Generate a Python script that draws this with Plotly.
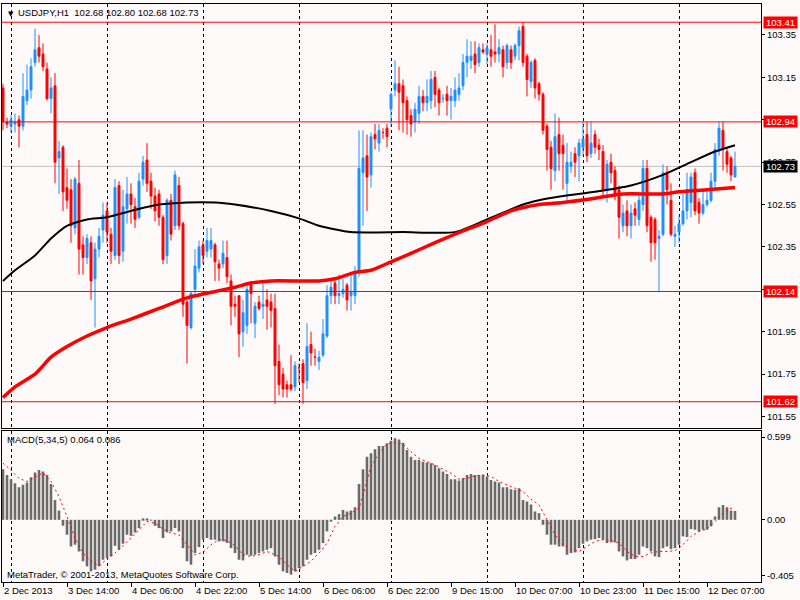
import plotly.graph_objects as go

# USDJPY H1, 184 hourly bars (index 0 = first bar on the chart)
bars = list(range(184))

opens = [
    103.10, 102.94, 102.92, 102.93, 102.95, 102.92, 103.04, 103.09, 103.22, 103.29,
    103.26, 103.19, 103.05, 103.11, 102.77, 102.82, 102.63, 102.62, 102.44, 102.65,
    102.36, 102.30, 102.37, 102.20, 102.34, 102.43, 102.52, 102.41, 102.31, 102.64,
    102.33, 102.53, 102.60, 102.54, 102.49, 102.67, 102.76, 102.66, 102.59, 102.60,
    102.49, 102.31, 102.57, 102.45, 102.64, 102.46, 102.09, 101.97, 102.15, 102.25,
    102.36, 102.33, 102.34, 102.36, 102.27, 102.27, 102.30, 102.19, 102.08, 102.12,
    101.95, 101.98, 102.18, 101.99, 102.09, 102.07, 102.10, 102.09, 102.06, 101.81,
    101.75, 101.70, 101.70, 101.69, 101.78, 101.80, 101.72, 101.89, 101.83, 101.81,
    101.84, 101.93, 102.12, 102.18, 102.12, 102.13, 102.17, 102.12, 102.12, 102.24,
    102.70, 102.78, 102.69, 102.88, 102.84, 102.89, 102.91, 103.00, 103.09, 103.12,
    103.11, 103.04, 102.97, 102.94, 102.98, 103.06, 103.03, 103.04, 103.15, 103.09,
    103.05, 103.07, 103.04, 103.04, 103.07, 103.11, 103.22, 103.23, 103.26, 103.22,
    103.28, 103.26, 103.28, 103.27, 103.26, 103.28, 103.22, 103.28, 103.25, 103.30,
    103.39, 103.25, 103.13, 103.23, 103.12, 103.07, 102.92, 102.82, 102.71, 102.88,
    102.83, 102.65, 102.73, 102.79, 102.78, 102.82, 102.88, 102.79, 102.88, 102.83,
    102.80, 102.62, 102.75, 102.71, 102.62, 102.45, 102.52, 102.45, 102.53, 102.48,
    102.55, 102.72, 102.49, 102.48, 102.39, 102.41, 102.70, 102.57, 102.40, 102.42,
    102.46, 102.52, 102.56, 102.70, 102.56, 102.51, 102.55, 102.57, 102.66, 102.80,
    102.90, 102.80, 102.77, 102.68,
]
highs = [
    103.12, 102.96, 102.97, 102.98, 102.97, 103.17, 103.21, 103.24, 103.38, 103.35,
    103.31, 103.22, 103.15, 103.17, 102.85, 102.83, 102.72, 102.67, 102.68, 102.76,
    102.40, 102.41, 102.40, 102.37, 102.44, 102.56, 102.56, 102.44, 102.67, 102.66,
    102.62, 102.68, 102.65, 102.58, 102.70, 102.78, 102.84, 102.70, 102.63, 102.62,
    102.50, 102.58, 102.60, 102.71, 102.68, 102.47, 102.10, 102.14, 102.34, 102.38,
    102.38, 102.44, 102.44, 102.37, 102.29, 102.38, 102.38, 102.22, 102.12, 102.12,
    102.10, 102.18, 102.19, 102.09, 102.12, 102.18, 102.15, 102.13, 102.13, 101.89,
    101.78, 101.72, 101.84, 101.81, 101.80, 101.82, 101.99, 101.95, 101.87, 101.86,
    102.01, 102.17, 102.19, 102.19, 102.22, 102.20, 102.18, 102.22, 102.26, 102.90,
    102.90, 102.88, 102.89, 102.93, 102.93, 102.91, 102.93, 103.08, 103.23, 103.20,
    103.14, 103.06, 103.00, 103.03, 103.11, 103.09, 103.14, 103.18, 103.18, 103.10,
    103.07, 103.11, 103.10, 103.15, 103.17, 103.26, 103.33, 103.32, 103.32, 103.31,
    103.31, 103.31, 103.35, 103.40, 103.33, 103.30, 103.31, 103.30, 103.31, 103.39,
    103.41, 103.26, 103.23, 103.24, 103.13, 103.08, 102.93, 102.85, 102.98, 102.96,
    102.88, 102.84, 102.80, 102.82, 102.86, 102.94, 102.94, 102.94, 102.90, 102.86,
    102.83, 102.76, 102.79, 102.73, 102.64, 102.55, 102.57, 102.55, 102.56, 102.60,
    102.76, 102.76, 102.50, 102.49, 102.43, 102.74, 102.73, 102.65, 102.45, 102.50,
    102.60, 102.70, 102.70, 102.72, 102.58, 102.62, 102.62, 102.70, 102.84, 102.94,
    102.94, 102.82, 102.78, 102.80,
]
lows = [
    102.90, 102.91, 102.89, 102.89, 102.82, 102.90, 103.02, 103.05, 103.20, 103.22,
    103.18, 103.04, 102.98, 102.65, 102.60, 102.52, 102.53, 102.37, 102.41, 102.22,
    102.22, 102.27, 102.10, 101.97, 102.30, 102.37, 102.37, 102.27, 102.29, 102.27,
    102.28, 102.46, 102.46, 102.44, 102.48, 102.64, 102.61, 102.53, 102.47, 102.45,
    102.27, 102.27, 102.38, 102.43, 102.43, 102.02, 101.80, 101.96, 102.13, 102.23,
    102.27, 102.30, 102.30, 102.19, 102.19, 102.25, 102.18, 101.98, 102.02, 101.83,
    101.88, 101.94, 101.99, 101.92, 102.05, 102.01, 101.96, 101.97, 101.61, 101.65,
    101.64, 101.64, 101.67, 101.67, 101.71, 101.61, 101.68, 101.79, 101.79, 101.77,
    101.83, 101.92, 102.08, 102.08, 102.08, 102.11, 102.05, 102.05, 102.08, 102.21,
    102.45, 102.52, 102.63, 102.81, 102.80, 102.86, 102.82, 102.92, 103.06, 102.90,
    102.89, 102.88, 102.87, 102.89, 102.93, 102.99, 102.99, 103.00, 103.01, 102.97,
    103.03, 102.97, 102.95, 103.01, 103.04, 103.09, 103.15, 103.19, 103.17, 103.20,
    103.26, 103.21, 103.20, 103.22, 103.22, 103.15, 103.19, 103.19, 103.23, 103.23,
    103.20, 103.06, 103.10, 103.05, 103.04, 102.88, 102.71, 102.62, 102.66, 102.71,
    102.62, 102.57, 102.70, 102.68, 102.66, 102.78, 102.75, 102.77, 102.79, 102.76,
    102.58, 102.56, 102.65, 102.57, 102.39, 102.42, 102.40, 102.39, 102.45, 102.45,
    102.52, 102.42, 102.28, 102.29, 102.14, 102.40, 102.55, 102.40, 102.35, 102.37,
    102.45, 102.48, 102.49, 102.50, 102.46, 102.50, 102.54, 102.56, 102.62, 102.78,
    102.71, 102.70, 102.66, 102.68,
]
closes = [
    102.94, 102.93, 102.95, 102.94, 102.92, 103.06, 103.09, 103.20, 103.28, 103.25,
    103.20, 103.05, 103.10, 102.75, 102.80, 102.61, 102.57, 102.45, 102.67, 102.34,
    102.30, 102.39, 102.19, 102.34, 102.40, 102.50, 102.42, 102.33, 102.63, 102.31,
    102.54, 102.60, 102.55, 102.48, 102.66, 102.75, 102.65, 102.59, 102.52, 102.49,
    102.29, 102.57, 102.41, 102.69, 102.45, 102.08, 101.98, 102.13, 102.26, 102.35,
    102.31, 102.38, 102.38, 102.28, 102.25, 102.32, 102.21, 102.07, 102.07, 101.94,
    102.04, 102.15, 102.13, 102.07, 102.06, 102.08, 102.07, 102.05, 101.79, 101.70,
    101.68, 101.68, 101.68, 101.79, 101.78, 101.71, 101.88, 101.85, 101.83, 101.83,
    101.94, 102.12, 102.16, 102.12, 102.13, 102.15, 102.10, 102.14, 102.23, 102.72,
    102.77, 102.68, 102.87, 102.86, 102.90, 102.89, 102.87, 103.07, 103.12, 103.08,
    103.03, 102.95, 102.93, 103.00, 103.06, 103.03, 103.06, 103.14, 103.07, 103.03,
    103.05, 103.04, 103.06, 103.09, 103.10, 103.22, 103.25, 103.25, 103.21, 103.29,
    103.27, 103.29, 103.25, 103.26, 103.29, 103.20, 103.30, 103.22, 103.30, 103.37,
    103.22, 103.14, 103.22, 103.10, 103.07, 102.90, 102.81, 102.72, 102.87, 102.79,
    102.79, 102.75, 102.75, 102.75, 102.84, 102.86, 102.78, 102.84, 102.82, 102.81,
    102.62, 102.74, 102.70, 102.60, 102.49, 102.51, 102.45, 102.51, 102.50, 102.57,
    102.72, 102.45, 102.37, 102.37, 102.40, 102.70, 102.62, 102.41, 102.41, 102.46,
    102.52, 102.62, 102.68, 102.52, 102.51, 102.55, 102.57, 102.66, 102.81, 102.91,
    102.81, 102.74, 102.69, 102.73,
]

# moving averages, read at a few bars
ma_black_x = [0, 3, 8, 12, 16, 21, 26, 32, 39, 46, 53, 58, 67, 74, 79, 87, 100, 113,
              121, 130, 134, 140, 148, 157, 165, 172, 178, 183]
ma_black = [102.19, 102.24, 102.31, 102.39, 102.45, 102.48, 102.49, 102.52, 102.55,
            102.56, 102.56, 102.55, 102.52, 102.485, 102.45, 102.42, 102.42, 102.42,
            102.48, 102.55, 102.57, 102.59, 102.61, 102.64, 102.69, 102.75, 102.80, 102.83]
ma_red_x = [0, 3, 8, 12, 16, 21, 26, 32, 39, 46, 53, 58, 62, 67, 79, 83, 88, 92, 97,
            102, 108, 113, 121, 127, 134, 140, 148, 155, 165, 169, 176, 183]
ma_red = [101.64, 101.69, 101.75, 101.83, 101.88, 101.93, 101.97, 102.01, 102.06,
          102.11, 102.14, 102.16, 102.18, 102.19, 102.19, 102.20, 102.23, 102.24, 102.28,
          102.32, 102.37, 102.41, 102.47, 102.52, 102.55, 102.56, 102.58, 102.60, 102.60,
          102.61, 102.62, 102.63]

# MACD(5,34,5)
macd_hist = [
    0.366, 0.325, 0.294, 0.265, 0.236, 0.253, 0.270, 0.308, 0.342, 0.361,
    0.349, 0.325, 0.260, 0.144, 0.067, -0.043, -0.108, -0.193, -0.180, -0.229,
    -0.300, -0.337, -0.373, -0.361, -0.337, -0.289, -0.277, -0.265, -0.188, -0.217,
    -0.173, -0.108, -0.116, -0.091, -0.060, 0.010, 0.010, -0.005, -0.043, -0.060,
    -0.132, -0.091, -0.084, -0.060, -0.084, -0.205, -0.300, -0.325, -0.240, -0.197,
    -0.144, -0.132, -0.144, -0.144, -0.156, -0.156, -0.168, -0.205, -0.240, -0.289,
    -0.294, -0.253, -0.260, -0.253, -0.240, -0.229, -0.217, -0.205, -0.265, -0.325,
    -0.373, -0.385, -0.397, -0.373, -0.349, -0.337, -0.289, -0.253, -0.240, -0.217,
    -0.168, -0.084, -0.007, 0.024, 0.041, 0.072, 0.060, 0.067, 0.091, 0.260,
    0.366, 0.457, 0.481, 0.510, 0.534, 0.534, 0.554, 0.573, 0.590, 0.582,
    0.558, 0.505, 0.457, 0.433, 0.433, 0.421, 0.414, 0.409, 0.397, 0.373,
    0.349, 0.332, 0.294, 0.294, 0.284, 0.300, 0.325, 0.332, 0.325, 0.325,
    0.325, 0.313, 0.289, 0.277, 0.270, 0.236, 0.236, 0.221, 0.217, 0.229,
    0.144, 0.132, 0.110, 0.060, 0.048, -0.036, -0.108, -0.180, -0.180, -0.193,
    -0.193, -0.253, -0.240, -0.236, -0.205, -0.173, -0.156, -0.144, -0.140, -0.132,
    -0.144, -0.168, -0.164, -0.164, -0.229, -0.265, -0.294, -0.284, -0.284, -0.253,
    -0.193, -0.205, -0.229, -0.265, -0.270, -0.205, -0.193, -0.212, -0.205, -0.180,
    -0.120, -0.125, -0.067, -0.072, -0.084, -0.072, -0.072, -0.048, 0.024, 0.091,
    0.108, 0.091, 0.067, 0.064,
]
signal_x = [0, 2, 4, 6, 8, 10, 12, 14, 16, 18, 20, 22, 24, 26, 28, 30, 32, 34, 36, 38,
            40, 42, 44, 46, 48, 50, 52, 54, 56, 58, 60, 62, 64, 66, 69, 71, 73, 75, 77,
            79, 81, 83, 85, 87, 89, 90, 92, 94, 96, 98, 100, 102, 104, 106, 108, 110,
            112, 114, 116, 118, 120, 122, 124, 126, 128, 130, 132, 134, 136, 138, 140,
            142, 144, 146, 148, 150, 152, 154, 156, 158, 160, 162, 164, 166, 168, 170,
            172, 174, 176, 178, 180, 182, 183]
signal = [0.41, 0.36, 0.30, 0.277, 0.31, 0.34, 0.277, 0.168, 0.024, -0.132, -0.24,
          -0.30, -0.332, -0.289, -0.24, -0.188, -0.132, -0.072, -0.012, -0.024, -0.067,
          -0.096, -0.108, -0.18, -0.253, -0.236, -0.18, -0.144, -0.149, -0.188, -0.253,
          -0.265, -0.253, -0.229, -0.265, -0.325, -0.373, -0.337, -0.30, -0.24, -0.168,
          -0.048, 0.024, 0.048, 0.084, 0.18, 0.385, 0.481, 0.549, 0.558, 0.549, 0.493,
          0.445, 0.421, 0.397, 0.366, 0.337, 0.294, 0.30, 0.318, 0.325, 0.313, 0.277,
          0.253, 0.229, 0.205, 0.149, 0.108, 0.0, -0.108, -0.18, -0.212, -0.229, -0.193,
          -0.156, -0.144, -0.149, -0.168, -0.229, -0.265, -0.265, -0.24, -0.229, -0.229,
          -0.224, -0.18, -0.12, -0.084, -0.067, -0.012, 0.048, 0.084, 0.086]

tick_bars = [0, 16, 32, 48, 64, 80, 96, 112, 128, 144, 160, 176]
tick_labels = ["2 Dec 2013", "3 Dec 14:00", "4 Dec 06:00", "4 Dec 22:00", "5 Dec 14:00",
               "6 Dec 06:00", "6 Dec 22:00", "9 Dec 15:00", "10 Dec 07:00",
               "10 Dec 23:00", "11 Dec 15:00", "12 Dec 07:00"]
day_breaks = [2, 26, 50, 74, 97, 121, 145, 169]
price_ticks = [101.55, 101.75, 101.95, 102.15, 102.35, 102.55, 102.75, 102.95, 103.15, 103.35]
levels = [103.41, 102.94, 102.14, 101.62]
macd_ticks = [0.599, 0.0, -0.405]
macd_ticktext = ["0.599", "0.00", "-0.405"]

BG = "#FFFAFA"
FONT = "Liberation Sans"
FS = 9.5

fig = go.Figure()

fig.add_trace(go.Candlestick(
    x=bars, open=opens, high=highs, low=lows, close=closes,
    increasing=dict(line=dict(color="#1E90FF", width=1), fillcolor="#1E90FF"),
    decreasing=dict(line=dict(color="#FF0000", width=1), fillcolor="#FF0000"),
    whiskerwidth=0, hoverinfo="skip", showlegend=False,
))
fig.add_trace(go.Scatter(x=ma_black_x, y=ma_black, mode="lines",
                         line=dict(color="black", width=2, shape="spline", smoothing=0.6),
                         hoverinfo="skip"))
fig.add_trace(go.Scatter(x=ma_red_x, y=ma_red, mode="lines",
                         line=dict(color="#FF0000", width=3.5, shape="spline", smoothing=0.6),
                         hoverinfo="skip"))

fig.add_trace(go.Bar(x=bars, y=macd_hist, width=0.65, xaxis="x2", yaxis="y2",
                     marker=dict(color="#6A6A6A", line=dict(width=0)), hoverinfo="skip"))
fig.add_trace(go.Scatter(x=signal_x, y=signal, mode="lines", xaxis="x2", yaxis="y2",
                         line=dict(color="#FF0000", width=1, dash="2px,3px"), hoverinfo="skip"))

# horizontal levels (objects sit on top of the chart, as in the terminal)
fig.add_shape(type="line", xref="paper", x0=0, x1=1, yref="y", y0=closes[-1], y1=closes[-1],
              line=dict(color="#C0C0C0", width=1), layer="below")
for lv in levels:
    fig.add_shape(type="line", xref="paper", x0=0, x1=1, yref="y", y0=lv, y1=lv,
                  line=dict(color="#FF0000", width=1), layer="above")

# price labels on the right scale
for lv in levels:
    fig.add_annotation(xref="paper", x=1, xanchor="left", xshift=2, yref="y", y=lv,
                       text=f"{lv:.2f}", showarrow=False, bgcolor="#FF0000",
                       font=dict(family=FONT, size=FS, color="white"),
                       width=33, height=11, borderpad=0)
fig.add_annotation(xref="paper", x=1, xanchor="left", xshift=2, yref="y", y=closes[-1],
                   text=f"{closes[-1]:.2f}", showarrow=False, bgcolor="black",
                   font=dict(family=FONT, size=FS, color="white"),
                   width=33, height=11, borderpad=0)

# header texts
fig.add_annotation(xref="paper", yref="paper", x=0, y=1, xanchor="left", yanchor="top",
                   xshift=4, yshift=-4, text="▼", showarrow=False,
                   font=dict(family="DejaVu Sans", size=7, color="black"))
fig.add_annotation(xref="paper", yref="paper", x=0, y=1, xanchor="left", yanchor="top",
                   xshift=14, yshift=-1, showarrow=False,
                   text=f"USDJPY,H1\u00a0\u00a0{opens[-1]:.2f} {highs[-1]:.2f} {lows[-1]:.2f} {closes[-1]:.2f}",
                   font=dict(family=FONT, size=FS, color="black"))
fig.add_annotation(xref="paper", yref="y2 domain", x=0, y=1, xanchor="left", yanchor="top",
                   xshift=3, yshift=-1, showarrow=False,
                   text=f"MACD(5,34,5) {macd_hist[-1]:.3f} {signal[-1]:.3f}",
                   font=dict(family=FONT, size=FS, color="black"))
fig.add_annotation(xref="paper", yref="y2 domain", x=0, y=0, xanchor="left", yanchor="bottom",
                   xshift=3, yshift=0, showarrow=False,
                   text="MetaTrader, © 2001-2013, MetaQuotes Software Corp.",
                   font=dict(family=FONT, size=FS, color="black"))

minor_grid = dict(tickmode="array", tickvals=day_breaks, showgrid=True, gridcolor="black",
                  gridwidth=1, griddash="3px,3px", ticks="")
x_range = [-0.25, 189.5]

fig.update_layout(
    width=800, height=600,
    margin=dict(l=2, r=39, t=4, b=18, autoexpand=False),
    paper_bgcolor=BG, plot_bgcolor=BG,
    showlegend=False,
    font=dict(family=FONT, size=FS, color="black"),
    boxgap=0.3, boxgroupgap=0.3,
    bargap=0.3,
    xaxis=dict(domain=[0, 1], anchor="y", range=x_range, showticklabels=False, ticks="",
               showgrid=False, zeroline=False, showline=True, linecolor="black",
               linewidth=1, mirror=True, rangeslider=dict(visible=False), minor=minor_grid,
               automargin=False),
    xaxis2=dict(domain=[0, 1], anchor="y2", range=x_range, matches="x",
                tickmode="array", tickvals=tick_bars, ticktext=tick_labels,
                ticks="outside", ticklen=4, tickcolor="black", tickangle=0,
                ticklabelposition="outside right",
                showgrid=False, zeroline=False, showline=True, linecolor="black",
                linewidth=1, mirror=True, minor=minor_grid, automargin=False),
    yaxis=dict(domain=[0.2664, 1], anchor="x", side="right", range=[101.496, 103.496],
               tickmode="array", tickvals=price_ticks,
               ticktext=[f"{v:.2f}" for v in price_ticks],
               ticks="outside", ticklen=3, tickcolor="black",
               showgrid=False, zeroline=False, showline=True, linecolor="black",
               linewidth=1, mirror=True, automargin=False),
    yaxis2=dict(domain=[0, 0.2618], anchor="x2", side="right", range=[-0.45, 0.645],
                tickmode="array", tickvals=macd_ticks, ticktext=macd_ticktext,
                ticks="outside", ticklen=3, tickcolor="black",
                showgrid=False, zeroline=False, showline=True, linecolor="black",
                linewidth=1, mirror=True, automargin=False),
)

fig.write_html("out.html", config={"displayModeBar": False},
               post_script="document.body.style.margin='0px';")
